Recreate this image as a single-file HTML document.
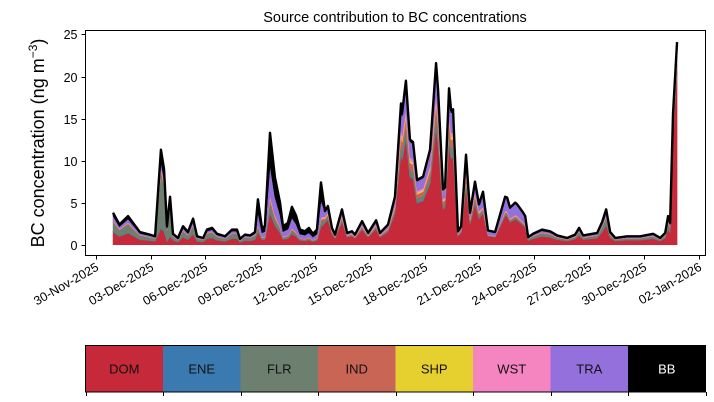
<!DOCTYPE html>
<html><head><meta charset="utf-8"><style>
body{margin:0;background:#fff}
svg{display:block;font-family:"Liberation Sans","DejaVu Sans",sans-serif}
</style></head><body>
<svg id="chart" width="714" height="402" viewBox="0 0 714 402" xmlns="http://www.w3.org/2000/svg">
<text x="395" y="22" font-size="14.5" text-anchor="middle">Source contribution to BC concentrations</text>
<text transform="translate(44,143) rotate(-90)" font-size="18" text-anchor="middle">BC concentration (ng m<tspan dy="-7" font-size="12">−3</tspan><tspan dy="7">)</tspan></text>
<g id="plot"></g>
<g id="axes"></g>
<g id="legend"></g>
</svg>
<script>
// Times in days since 30-Nov-2025 00:00
const times = [0.95,1.30,1.77,2.42,2.97,3.25,3.57,3.74,3.90,4.07,4.23,4.50,4.78,5.05,5.33,5.55,5.88,6.09,6.37,6.64,7.08,7.46,7.73,7.90,8.17,8.45,8.72,8.88,9.10,9.26,9.54,9.81,10.09,10.25,10.52,10.74,10.96,11.18,11.45,11.67,11.89,12.11,12.33,12.55,12.71,12.93,13.10,13.48,13.76,14.03,14.19,14.58,14.91,15.35,15.56,16.00,16.38,16.71,16.77,16.98,17.20,17.37,17.59,17.92,18.30,18.63,18.74,19.01,19.12,19.34,19.45,19.56,19.83,20.00,20.27,20.49,20.76,20.98,21.20,21.47,21.86,22.41,22.52,22.68,22.96,23.07,23.40,23.51,23.67,23.94,24.43,24.87,25.26,25.80,26.24,26.46,26.68,27.45,27.72,27.94,28.16,28.44,29.09,29.80,30.51,30.90,31.17,31.33,31.44,31.60,31.82];
const totals = [3.8,2.4,3.4,1.5,1.2,1.0,11.3,9.0,2.2,5.7,1.3,0.8,2.2,1.5,3.1,1.0,0.8,1.8,2.0,1.3,1.0,1.8,1.8,0.7,1.2,1.1,1.5,5.4,2.0,2.2,13.3,8.0,5.0,2.2,2.6,4.5,3.5,1.8,1.6,2.0,1.3,1.8,7.4,4.0,4.6,2.0,1.2,4.2,1.4,1.6,1.2,2.8,1.4,2.9,1.4,2.4,5.7,16.8,15.6,19.5,12.5,12.2,7.7,8.1,11.3,21.6,18.4,6.6,6.8,18.6,16.0,16.1,1.6,2.2,10.7,3.8,7.5,4.8,6.3,1.7,1.5,5.7,5.6,4.4,5.0,4.8,3.8,3.4,0.9,1.3,1.8,1.6,1.1,0.8,1.2,2.0,1.1,1.4,2.7,4.2,1.5,0.8,1.0,1.0,1.3,0.8,1.4,3.4,2.6,15.6,24.1];
// Composition regime for each time point
const regimes = "AAAAAAGGGGAAAAAAAAAAAAAAAAABBBBBBBBBBBBBBBBCCCCCCCCCCCCCCCCCCCCCCCCCCCCCCCCCCCDDDDDDDDDDEEEEEEEEEEEEEEEEEEEEEFF";
const regimeKeys = ["A","G","B","C","D","E","F"];
const sources = ["DOM","ENE","FLR","IND","SHP","WST","TRA","BB"];
const colors = ["#c6293a","#3a7ab1","#6d8070","#c96555","#e6d030","#f585c0","#9370db","#000000"];
// Source shares per regime (A, G, B, C, D, E, F)
const domShare = [0.40,0.17,0.28,0.64,0.60,0.55,0.85];
const eneShare = [0.02,0.01,0.01,0.01,0.01,0.01,0.01];
const flrShare = [0.30,0.58,0.09,0.07,0.04,0.20,0.03];
const indShare = [0.03,0.03,0.03,0.06,0.03,0.03,0.02];
const shpShare = [0.01,0.01,0.01,0.02,0.01,0.01,0.01];
const wstShare = [0.02,0.02,0.02,0.03,0.02,0.02,0.02];
const traShare = [0.12,0.05,0.27,0.15,0.27,0.10,0.05];
const bbShare  = [0.10,0.13,0.29,0.02,0.02,0.08,0.01];
const yTicks = [0,5,10,15,20,25];
const xTickDays = [0,3,6,9,12,15,18,21,24,27,30,33];
const xTickLabels = ["30-Nov-2025","03-Dec-2025","06-Dec-2025","09-Dec-2025","12-Dec-2025","15-Dec-2025","18-Dec-2025","21-Dec-2025","24-Dec-2025","27-Dec-2025","30-Dec-2025","02-Jan-2026"];

const NS="http://www.w3.org/2000/svg";
const L=85.5,R=705.5,T=30.5,B=255.5;
const xs=d=>95.7+18.27*d;
const ys=v=>244.7-8.41*v;
function mk(tag,attrs,parent){const e=document.createElementNS(NS,tag);for(const k in attrs)e.setAttribute(k,attrs[k]);parent.appendChild(e);return e;}
const plot=document.getElementById('plot'),axes=document.getElementById('axes'),legend=document.getElementById('legend');
const shareArrays=[domShare,eneShare,flrShare,indShare,shpShare,wstShare,traShare,bbShare];
const n=times.length;
let lower=new Array(n).fill(0);
for(let s=0;s<sources.length;s++){
  const upper=[];
  for(let i=0;i<n;i++){const r=regimeKeys.indexOf(regimes[i]);upper.push(lower[i]+totals[i]*shareArrays[s][r]);}
  let d="M"+xs(times[0]).toFixed(2)+","+ys(upper[0]).toFixed(2);
  for(let i=1;i<n;i++)d+="L"+xs(times[i]).toFixed(2)+","+ys(upper[i]).toFixed(2);
  for(let i=n-1;i>=0;i--)d+="L"+xs(times[i]).toFixed(2)+","+ys(lower[i]).toFixed(2);
  d+="Z";
  const p=mk('path',{d:d,fill:colors[s],stroke:colors[s],'stroke-width':0.6},plot);
  
  
  lower=upper;
}
let ld="M"+xs(times[0]).toFixed(2)+","+ys(totals[0]).toFixed(2);
for(let i=1;i<n;i++)ld+="L"+xs(times[i]).toFixed(2)+","+ys(totals[i]).toFixed(2);
const tl=mk('path',{d:ld,fill:'none',stroke:'#000','stroke-width':2.4,'stroke-linejoin':'round'},plot);



const frame=mk('rect',{x:L,y:T,width:R-L,height:B-T,fill:'none',stroke:'#000','stroke-width':1},axes);


yTicks.forEach(v=>{
  const y=Math.round(ys(v))+0.5;
  const t=mk('line',{x1:L-4,x2:L,y1:y,y2:y,stroke:'#000'},axes);
  
  
  const tx=mk('text',{x:L-8,y:y+4.5,'font-size':12.5,'text-anchor':'end'},axes);
  tx.textContent=v;
  
  
});
xTickDays.forEach((d,i)=>{
  const x=Math.round(xs(d))+0.5;
  const t=mk('line',{x1:x,x2:x,y1:B,y2:B+4,stroke:'#000'},axes);
  
  
  const tx=mk('text',{x:x+3,y:B+14,'font-size':12.5,'text-anchor':'end',transform:'rotate(-30 '+(x+3)+' '+(B+14)+')'},axes);
  tx.textContent=xTickLabels[i];
  
  
});
const LX=85.5,LW=620,LY=345.5,LH=46.5,cw=LW/sources.length;
sources.forEach((s,i)=>{
  const r=mk('rect',{x:LX+i*cw,y:LY,width:cw,height:LH,fill:colors[i]},legend);
  
  
  const tx=mk('text',{x:LX+i*cw+cw/2,y:LY+LH/2+4.5,'font-size':13,'text-anchor':'middle',fill:s==='BB'?'#fff':'#111'},legend);
  tx.textContent=s;
  
  
});
for(let i=0;i<=sources.length;i++){
  const x=Math.round(LX+i*cw)+0.5;
  const t=mk('line',{x1:x,x2:x,y1:LY+LH,y2:LY+LH+4,stroke:'#000'},legend);
  
  
}
const lb=mk('rect',{x:LX,y:LY,width:LW,height:LH,fill:'none',stroke:'#000','stroke-width':1},legend);


</script>
</body></html>
